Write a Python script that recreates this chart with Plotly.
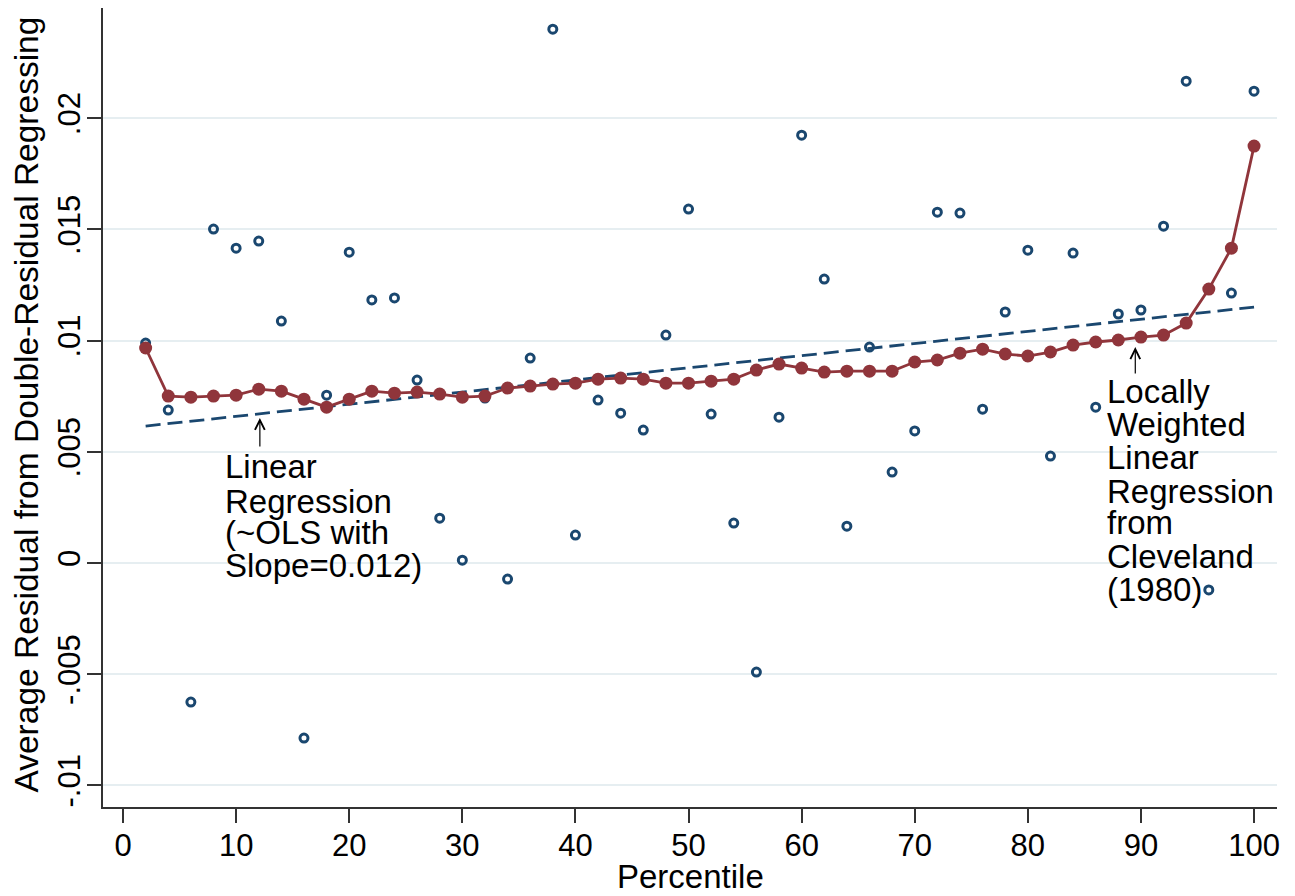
import plotly.graph_objects as go

# ---- data ----
percentile = [2, 4, 6, 8, 10, 12, 14, 16, 18, 20, 22, 24, 26, 28, 30, 32, 34, 36, 38, 40,
              42, 44, 46, 48, 50, 52, 54, 56, 58, 60, 62, 64, 66, 68, 70, 72, 74, 76, 78, 80,
              82, 84, 86, 88, 90, 92, 94, 96, 98, 100]

avg_residual = [0.00989, 0.00688, -0.00625, 0.01502, 0.01416, 0.01448, 0.01088, -0.00787, 0.00755, 0.01398,
                0.01183, 0.01192, 0.00823, 0.00202, 0.00013, 0.00742, -0.00072, 0.00922, 0.02401, 0.00126,
                0.00733, 0.00674, 0.00598, 0.01025, 0.01592, 0.00670, 0.00180, -0.00490, 0.00656, 0.01924,
                0.01277, 0.00166, 0.00971, 0.00409, 0.00594, 0.01578, 0.01574, 0.00692, 0.01129, 0.01407,
                0.00481, 0.01394, 0.00701, 0.01120, 0.01138, 0.01515, 0.02167, -0.00121, 0.01214, 0.02122]

lowess_fit = [0.00967, 0.00751, 0.00746, 0.00751, 0.00755, 0.00782, 0.00773, 0.00737, 0.00701, 0.00737,
              0.00773, 0.00764, 0.00769, 0.00760, 0.00746, 0.00751, 0.00787, 0.00796, 0.00805, 0.00809,
              0.00827, 0.00832, 0.00827, 0.00809, 0.00809, 0.00818, 0.00827, 0.00868, 0.00895, 0.00877,
              0.00859, 0.00863, 0.00863, 0.00863, 0.00904, 0.00913, 0.00944, 0.00962, 0.00940, 0.00931,
              0.00949, 0.00980, 0.00994, 0.01003, 0.01016, 0.01025, 0.01079, 0.01232, 0.01416, 0.01875]

linfit_x = [2, 100]
linfit_y = [0.00616, 0.01151]

x_ticks = [0, 10, 20, 30, 40, 50, 60, 70, 80, 90, 100]
y_tickvals = [-0.01, -0.005, 0, 0.005, 0.01, 0.015, 0.02]
y_ticktext = ["-.01", "-.005", "0", ".005", ".01", ".015", ".02"]

x_title = "Percentile"
y_title = "Average Residual from Double-Residual Regressing"
left_label = ["Linear", "Regression", "(~OLS with", "Slope=0.012)"]
right_label = ["Locally", "Weighted", "Linear", "Regression", "from", "Cleveland", "(1980)"]

NAVY = "#1a476f"
MAROON = "#90353b"
FONT = "Liberation Sans, Arial, sans-serif"

fig = go.Figure()
fig.add_trace(go.Scatter(
    x=percentile, y=avg_residual, mode="markers",
    marker=dict(symbol="circle-open", size=8, color=NAVY, line=dict(width=3, color=NAVY)),
    showlegend=False, hoverinfo="skip"))
fig.add_trace(go.Scatter(
    x=linfit_x, y=linfit_y, mode="lines",
    line=dict(color=NAVY, width=2.8, dash="15px,7px"),
    showlegend=False, hoverinfo="skip"))
fig.add_trace(go.Scatter(
    x=percentile, y=lowess_fit, mode="lines+markers",
    line=dict(color=MAROON, width=2.8),
    marker=dict(symbol="circle", size=13, color=MAROON),
    showlegend=False, hoverinfo="skip"))

annotations = []
left_y = [0.00432, 0.00279, 0.00139, -0.00009]
for txt, yy in zip(left_label, left_y):
    annotations.append(dict(x=8.84, y=yy, xref="x", yref="y", text=txt, showarrow=False,
                            xanchor="left", yanchor="middle",
                            font=dict(family=FONT, size=33, color="black")))
right_y = [0.00773, 0.00624, 0.00476, 0.00323, 0.00184, 0.00031, -0.00117]
for txt, yy in zip(right_label, right_y):
    annotations.append(dict(x=86.8, y=yy, xref="x", yref="y", text=txt, showarrow=False,
                            xanchor="left", yanchor="middle",
                            font=dict(family=FONT, size=33, color="black")))
# arrows
annotations.append(dict(x=12.1, y=0.00652, xref="x", yref="y", text="", showarrow=True,
                        ax=0, ay=30, arrowhead=5, arrowsize=1.6, arrowwidth=1.2,
                        arrowcolor="black", standoff=0, startstandoff=0))
annotations.append(dict(x=89.5, y=0.00971, xref="x", yref="y", text="", showarrow=True,
                        ax=0, ay=28, arrowhead=5, arrowsize=1.6, arrowwidth=1.2,
                        arrowcolor="black", standoff=0, startstandoff=0))
# axis titles
annotations.append(dict(x=0.5, y=0, xref="paper", yref="paper", text=x_title, showarrow=False,
                        xanchor="center", yanchor="middle", yshift=-69,
                        font=dict(family=FONT, size=33, color="black")))
annotations.append(dict(x=0, y=0.5, xref="paper", yref="paper", text=y_title, showarrow=False,
                        xanchor="center", yanchor="middle", xshift=-77, yshift=3, textangle=-90,
                        font=dict(family=FONT, size=33.5, color="black")))

# the page body adds an 8px offset, so the figure is 8px smaller and margins shifted
fig.update_layout(
    width=1287, height=888,
    margin=dict(l=95, r=18, t=0, b=89),
    paper_bgcolor="white", plot_bgcolor="white",
    font=dict(family=FONT, color="black"),
    annotations=annotations,
)
fig.update_xaxes(
    range=[-1.77, 102.03], tickvals=x_ticks, showgrid=False, zeroline=False, automargin=False,
    showline=True, linecolor="#333333", linewidth=1.5,
    ticks="outside", ticklen=14, tickwidth=1.5, tickcolor="#333333", ticklabelstandoff=-4,
    tickfont=dict(family=FONT, size=31, color="black"),
)
fig.update_yaxes(
    range=[-0.01097, 0.02496], tickvals=y_tickvals, ticktext=y_ticktext, tickangle=-90,
    showgrid=True, gridcolor="#e6eef1", gridwidth=1.5, zeroline=False, automargin=False,
    showline=True, linecolor="#333333", linewidth=1.5,
    ticks="outside", ticklen=14, tickwidth=1.5, tickcolor="#333333", ticklabelstandoff=-5,
    tickfont=dict(family=FONT, size=31, color="black"),
)

fig.write_html("out.html")
